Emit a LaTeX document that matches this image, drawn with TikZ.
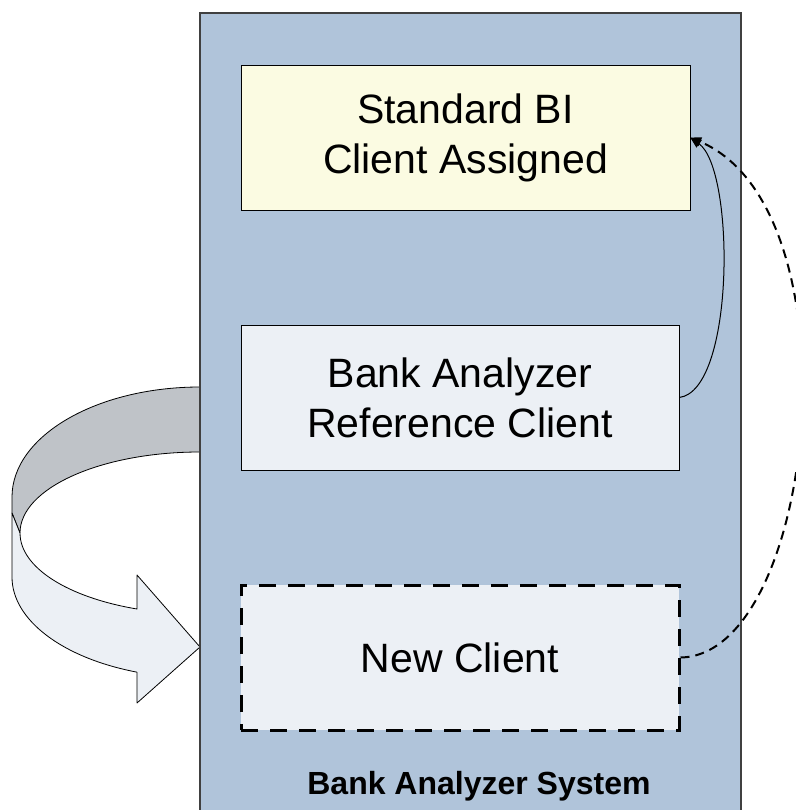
\documentclass[tikz,border=0pt]{standalone}
\usepackage{fontspec}
\setmainfont{Liberation Sans}
\usepackage{xcolor}
\usetikzlibrary{positioning,arrows.meta,calc}
\definecolor{sysblue}{RGB}{176,196,218}
\definecolor{stdyellow}{RGB}{251,251,226}
\definecolor{clientfill}{RGB}{236,240,245}
\definecolor{backgray}{RGB}{191,195,200}

\begin{document}
\begin{tikzpicture}[x=1pt,y=-1pt,>={Triangle[length=11pt,width=9pt]},
  client/.style={draw,fill=clientfill,minimum width=438pt,minimum height=145pt,inner sep=0pt,
    align=center,font=\fontsize{41}{50}\selectfont},
  flow/.style={->,line width=1pt},
  ribbon/.style={draw,line width=0.8pt,line join=round}]
\useasboundingbox (0,0) rectangle (795,810);
% left: turning ribbon arrow
\fill[ribbon,fill=backgray] (200,387) arc[start angle=90,end angle=180,x radius=188pt,y radius=110pt]
  -- (12,513) -- (20,533) arc[start angle=180,end angle=90,x radius=180pt,y radius=81pt] -- cycle;
\fill[ribbon,fill=clientfill] (12,513) -- (12,577)
  arc[start angle=180,end angle=250.4,x radius=188pt,y radius=101pt]
  -- (137,703) -- (200,647) -- (137,575) -- (137,609)
  arc[start angle=249.5,end angle=180,x radius=180pt,y radius=81pt] -- cycle;
% system frame
\node[draw=black!75,fill=sysblue,line width=1.2pt,minimum width=541pt,minimum height=802pt] (sys) at (470.5,414) {};
\node[font=\fontsize{32}{38}\selectfont\bfseries] (title) at (479,786) {Bank Analyzer System};
% clients
\node[client,fill=stdyellow,minimum width=449pt] (std) at (465.5,137.5) {Standard BI\\Client Assigned};
\node[client] (ref) at (460,397.5) {Bank Analyzer\hspace{0.45em}\\Reference Client};
\node[client,line width=3pt,dash pattern=on 17pt off 12pt] (new) at (460,657.5) {New Client};
% connectors
\draw[flow] (ref.east) .. controls +(56,-7) and +(45,32) .. (std.east);
\draw[flow,line width=2pt,dash pattern=on 9pt off 6pt] (new.east) .. controls +(136,-2) and +(170,72) .. (std.east);
\end{tikzpicture}
\end{document}
